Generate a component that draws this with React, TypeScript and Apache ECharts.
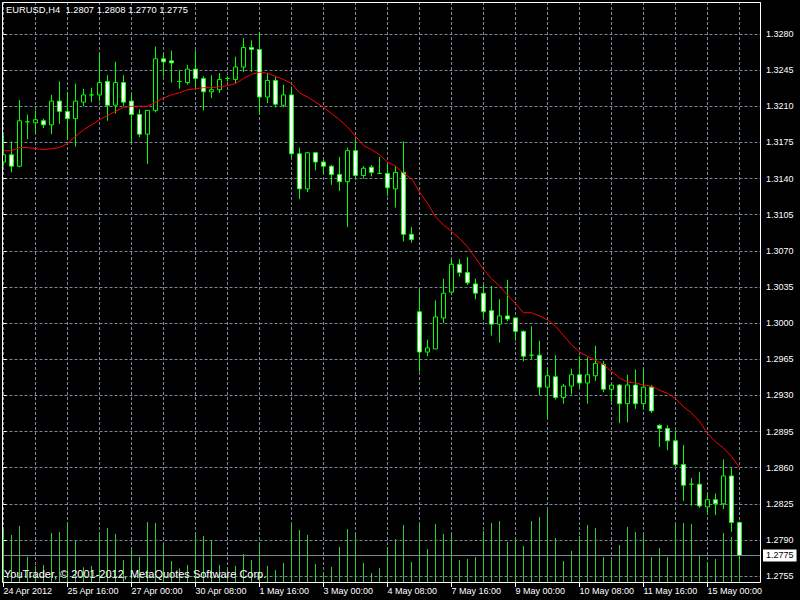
import React, { useEffect, useRef } from "react";
import * as echarts from "echarts";

// ---------- data ----------
const symbolTitle = "EURUSD,H4";
const lastQuote = ["1.2807", "1.2808", "1.2770", "1.2775"];
const copyright = "YouTrader, © 2001-2012, MetaQuotes Software Corp.";
const xTickLabels = [
  "24 Apr 2012", "25 Apr 16:00", "27 Apr 00:00", "30 Apr 08:00", "1 May 16:00", "3 May 00:00",
  "4 May 08:00", "7 May 16:00", "9 May 00:00", "10 May 08:00", "11 May 16:00", "15 May 00:00",
];
const priceTicks = [
  1.2755, 1.279, 1.2825, 1.286, 1.2895, 1.293, 1.2965, 1.3, 1.3035, 1.307, 1.3105, 1.314,
  1.3175, 1.321, 1.3245, 1.328,
];
const bidPrice = 1.2775;

const opens = [
  1.3156, 1.3163, 1.3152, 1.3195, 1.3194, 1.3196, 1.3192, 1.3215, 1.3205, 1.3198,
  1.3214, 1.3221, 1.3221, 1.3234, 1.3211, 1.3233, 1.3215, 1.3202, 1.3183, 1.3206,
  1.3256, 1.3254, 1.3234, 1.3233, 1.3246, 1.3237, 1.3224, 1.3226, 1.3237, 1.3236,
  1.3248, 1.3267, 1.3265, 1.3219, 1.3235, 1.3211, 1.3221, 1.3164, 1.313, 1.3165,
  1.3156, 1.3152, 1.3144, 1.3137, 1.3167, 1.3143, 1.3151, 1.3145, 1.3145, 1.313,
  1.3146, 1.3086, 1.3011, 1.2972, 1.2975, 1.3005, 1.303, 1.3057, 1.3049, 1.3038,
  1.3029, 1.3012, 1.2999, 1.3007, 1.3005, 1.2992, 1.2969, 1.2969, 1.2938, 1.2948,
  1.2928, 1.2939, 1.295, 1.2942, 1.2949, 1.296, 1.2936, 1.294, 1.2922, 1.294,
  1.2922, 1.2938, 1.2901, 1.2898, 1.2886, 1.2863, 1.2844, 1.2844, 1.2822, 1.2829,
  1.2825, 1.2852, 1.2807,
];
const highs = [
  1.3182, 1.3176, 1.3216, 1.3202, 1.3206, 1.3198, 1.3221, 1.3234, 1.3224, 1.3232,
  1.3227, 1.3228, 1.3261, 1.324, 1.3253, 1.324, 1.3222, 1.3207, 1.3206, 1.3268,
  1.3261, 1.3264, 1.3245, 1.325, 1.3264, 1.3239, 1.324, 1.3242, 1.3239, 1.3258,
  1.3276, 1.3274, 1.3282, 1.3242, 1.3239, 1.3231, 1.3229, 1.317, 1.3166, 1.3166,
  1.3158, 1.3153, 1.3161, 1.317, 1.3178, 1.3152, 1.3153, 1.3161, 1.3154, 1.3152,
  1.3176, 1.3093, 1.3032, 1.2984, 1.3022, 1.3043, 1.3063, 1.3062, 1.3064, 1.3043,
  1.3037, 1.3036, 1.3023, 1.3042, 1.3005, 1.2993, 1.2997, 1.2983, 1.2956, 1.2969,
  1.2941, 1.2956, 1.2968, 1.2967, 1.2978, 1.2963, 1.2941, 1.2941, 1.295, 1.2955,
  1.2955, 1.294, 1.2902, 1.2901, 1.2896, 1.2882, 1.285, 1.2856, 1.2835, 1.2835,
  1.2868, 1.286, 1.2808,
];
const lows = [
  1.3152, 1.3146, 1.3151, 1.3178, 1.3184, 1.3189, 1.3183, 1.3193, 1.3178, 1.3171,
  1.321, 1.3214, 1.3215, 1.3196, 1.3203, 1.321, 1.3175, 1.318, 1.3154, 1.3204,
  1.3239, 1.3233, 1.3227, 1.3231, 1.3228, 1.3206, 1.3218, 1.3223, 1.3234, 1.3232,
  1.3243, 1.3243, 1.3202, 1.3213, 1.3209, 1.3209, 1.3161, 1.312, 1.3127, 1.3148,
  1.3144, 1.3134, 1.3128, 1.3093, 1.314, 1.314, 1.3142, 1.3145, 1.3123, 1.3112,
  1.3079, 1.3078, 1.2953, 1.2968, 1.2975, 1.3, 1.3027, 1.3045, 1.3037, 1.3023,
  1.3005, 1.2988, 1.2981, 1.3002, 1.2983, 1.2963, 1.2965, 1.293, 1.2908, 1.2926,
  1.2922, 1.2931, 1.2937, 1.2922, 1.2944, 1.2933, 1.2924, 1.2903, 1.2904, 1.2917,
  1.2917, 1.2913, 1.288, 1.2877, 1.2861, 1.2828, 1.2823, 1.2821, 1.2814, 1.2814,
  1.282, 1.2798, 1.277,
];
const closes = [
  1.3163, 1.3152, 1.3196, 1.3195, 1.3197, 1.3192, 1.3215, 1.3205, 1.3198, 1.3215,
  1.3221, 1.3221, 1.3233, 1.3211, 1.3233, 1.3214, 1.3202, 1.3183, 1.3206, 1.3256,
  1.3253, 1.3252, 1.3234, 1.3246, 1.3237, 1.3224, 1.3226, 1.3236, 1.3237, 1.3248,
  1.3267, 1.3265, 1.3219, 1.3235, 1.3212, 1.3221, 1.3164, 1.313, 1.3165, 1.3156,
  1.3152, 1.3144, 1.3137, 1.3167, 1.3143, 1.315, 1.3146, 1.3145, 1.3131, 1.3146,
  1.3086, 1.3081, 1.2972, 1.2976, 1.3006, 1.3029, 1.3057, 1.3049, 1.3039, 1.3029,
  1.3011, 1.2999, 1.3007, 1.3004, 1.2992, 1.2968, 1.2969, 1.2938, 1.2949, 1.2928,
  1.2939, 1.295, 1.2942, 1.295, 1.2961, 1.2936, 1.294, 1.2922, 1.294, 1.2922,
  1.2938, 1.2915, 1.2898, 1.2886, 1.2863, 1.2843, 1.2844, 1.2823, 1.2829, 1.2825,
  1.2852, 1.2807, 1.2775,
];
const movingAverage = [
  1.3167, 1.3167, 1.317, 1.317, 1.3169, 1.3168, 1.3169, 1.317, 1.3174, 1.3181,
  1.3187, 1.3192, 1.3197, 1.3201, 1.3205, 1.3209, 1.321, 1.321, 1.321, 1.3214,
  1.3218, 1.3221, 1.3223, 1.3226, 1.3227, 1.3228, 1.3228, 1.3229, 1.323, 1.3232,
  1.3237, 1.3241, 1.3243, 1.3242, 1.3239, 1.3236, 1.3232, 1.3223, 1.3219, 1.3214,
  1.3209, 1.3203, 1.3197, 1.319, 1.3181, 1.3172, 1.3168, 1.3163, 1.3156, 1.3152,
  1.3145, 1.314, 1.3127, 1.3116, 1.3103, 1.3095, 1.3089, 1.3082, 1.3074, 1.3063,
  1.3052, 1.3043, 1.3036, 1.3027, 1.3019, 1.301, 1.301, 1.3007, 1.3003, 1.2997,
  1.2988, 1.2979, 1.2972, 1.2968, 1.2964, 1.296, 1.2953, 1.2947, 1.2943, 1.2942,
  1.294, 1.2939, 1.2935, 1.2932, 1.2927, 1.2919, 1.2913, 1.2905, 1.2893, 1.2885,
  1.2879, 1.2871, 1.286,
];
const volumes = [
  5200, 4700, 5600, 2530, 1600, 1700, 4900, 5000, 5970, 4200,
  1470, 1600, 4700, 5400, 4800, 2200, 3370, 2530, 6000, 5900,
  3800, 2100, 1370, 1700, 4700, 4600, 4170, 1700, 1370, 1600,
  2800, 2200, 4000, 1600, 1200, 1900, 5800, 5200, 4700, 1800,
  1030, 1500, 3500, 5300, 4800, 1900, 900, 1400, 3500, 4270,
  5700, 2000, 5800, 3300, 5800, 4800, 4800, 2200, 2300, 2500,
  5100, 5900, 6100, 4000, 4400, 3600, 6100, 6500, 7200, 4400,
  2100, 3100, 4600, 5700, 5400, 2500, 2400, 3700, 5500, 5000,
  4700, 2500, 3400, 2500, 5800, 5900, 5800, 2700, 2000, 2300,
  4900, 4500, 3000,
];

// ---------- layout constants ----------
const W = 800;
const H = 600;
const FRAME_L = 2;
const FRAME_T = 2;
const FRAME_R = 760;
const FRAME_B = 582;
const BAR_PX = 8;
const BAR0_X = 3.5;
const X_MIN = -8;
const X_MAX = (FRAME_R - BAR0_X) / BAR_PX;
const GRID_LEFT = BAR0_X + X_MIN * BAR_PX;
const PX_PER_UNIT = 36.14 / 0.0035;
const Y_MAX = 1.328 + (34 - FRAME_T) / PX_PER_UNIT;
const Y_MIN = Y_MAX - (FRAME_B - FRAME_T) / PX_PER_UNIT;
const VOL_MAX = (FRAME_B - FRAME_T) * 100;
const FONT = "Liberation Sans, Arial, sans-serif";
const GRID_COLOR = "#778899";
const DASH = [3, 2];

export default function App() {
  const ref = useRef<HTMLDivElement>(null);

  useEffect(() => {
    if (!ref.current) return;
    const chart = echarts.init(ref.current, undefined, { renderer: "svg" });
    const tickPositions = xTickLabels.map((_, i) => i * 8);

    const option: any = {
      animation: false,
      backgroundColor: "#000",
      title: [
        {
          text: `${symbolTitle}  ${lastQuote.join(" ")}`,
          left: 6,
          top: 5,
          padding: 0,
          textStyle: { color: "#fff", fontSize: 9.4, fontWeight: "normal", fontFamily: FONT },
        },
        {
          text: copyright,
          left: 4,
          top: 568,
          padding: 0,
          textStyle: { color: "#fff", fontSize: 11, fontWeight: "normal", fontFamily: FONT },
        },
      ],
      grid: {
        left: GRID_LEFT,
        right: W - FRAME_R,
        top: FRAME_T,
        bottom: H - FRAME_B,
        show: false,
        containLabel: false,
        outerBoundsMode: "none",
      },
      xAxis: [
        {
          type: "value",
          min: X_MIN,
          max: X_MAX,
          interval: 4,
          position: "bottom",
          axisLine: { show: false },
          axisTick: { show: false },
          axisLabel: { show: false },
          splitLine: { show: true, lineStyle: { color: GRID_COLOR, type: DASH, width: 1 } },
        },
        {
          type: "value",
          min: X_MIN,
          max: X_MAX,
          position: "bottom",
          axisLine: { show: false },
          axisTick: {
            show: true,
            customValues: tickPositions,
            length: 5,
            lineStyle: { color: "#fff" },
          },
          axisLabel: {
            show: true,
            customValues: tickPositions,
            formatter: (v: number) => xTickLabels[Math.round(v / 8)] ?? "",
            color: "#fff",
            fontSize: 9,
            fontFamily: FONT,
            align: "left",
            margin: 4,
          },
          splitLine: { show: false },
        },
      ],
      yAxis: [
        {
          type: "value",
          position: "right",
          min: Y_MIN,
          max: Y_MAX,
          axisLine: { show: false },
          axisTick: {
            show: true,
            customValues: priceTicks,
            length: 3,
            lineStyle: { color: "#fff" },
          },
          axisLabel: {
            show: true,
            customValues: priceTicks,
            formatter: (v: number) => v.toFixed(4),
            color: "#fff",
            fontSize: 9,
            fontFamily: FONT,
            margin: 6,
          },
          splitLine: { show: true, lineStyle: { color: GRID_COLOR, type: DASH, width: 1 } },
        },
        {
          type: "value",
          min: 0,
          max: VOL_MAX,
          show: false,
          splitLine: { show: false },
        },
      ],
      series: [
        {
          name: "Volumes",
          type: "bar",
          xAxisIndex: 0,
          yAxisIndex: 1,
          data: volumes.map((v, i) => [i, v]),
          barWidth: 1,
          itemStyle: { color: "#32cd32" },
          silent: true,
          z: 1,
        },
        {
          name: symbolTitle,
          type: "candlestick",
          xAxisIndex: 0,
          yAxisIndex: 0,
          data: opens.map((o, i) => [i, o, closes[i], lows[i], highs[i]]),
          encode: { x: 0, y: [1, 2, 3, 4] },
          barWidth: 4,
          itemStyle: {
            color: "#000",
            color0: "#fff",
            borderColor: "#00ff00",
            borderColor0: "#00ff00",
            borderColorDoji: "#00ff00",
            borderWidth: 1,
          },
          silent: true,
          z: 3,
          markLine: {
            silent: true,
            precision: 4,
            symbol: ["none", "none"],
            data: [{ yAxis: bidPrice }],
            lineStyle: { color: GRID_COLOR, type: "solid", width: 1 },
            label: {
              show: true,
              position: "end",
              formatter: bidPrice.toFixed(4),
              color: "#000",
              backgroundColor: "#fff",
              fontSize: 9,
              fontFamily: FONT,
              padding: [2, 3, 1, 3],
              distance: 3,
            },
          },
        },
        {
          name: "MA",
          type: "line",
          xAxisIndex: 0,
          yAxisIndex: 0,
          data: movingAverage.map((v, i) => [i, v]),
          symbol: "none",
          showSymbol: false,
          lineStyle: { color: "#ff0000", width: 1 },
          silent: true,
          z: 4,
        },
      ],
      graphic: [
        {
          type: "rect",
          shape: { x: 0, y: 0, width: FRAME_L, height: H },
          style: { fill: "#000" },
          z: 90,
          silent: true,
        },
        {
          type: "rect",
          shape: {
            x: FRAME_L + 0.5,
            y: FRAME_T + 0.5,
            width: FRAME_R - FRAME_L,
            height: FRAME_B - FRAME_T,
          },
          style: { fill: "none", stroke: "#fff", lineWidth: 1 },
          z: 100,
          silent: true,
        },
      ],
    };

    chart.setOption(option);
    return () => chart.dispose();
  }, []);

  return (
    <div
      ref={ref}
      style={{ position: "fixed", left: 0, top: 0, width: W, height: H, background: "#000" }}
    />
  );
}
